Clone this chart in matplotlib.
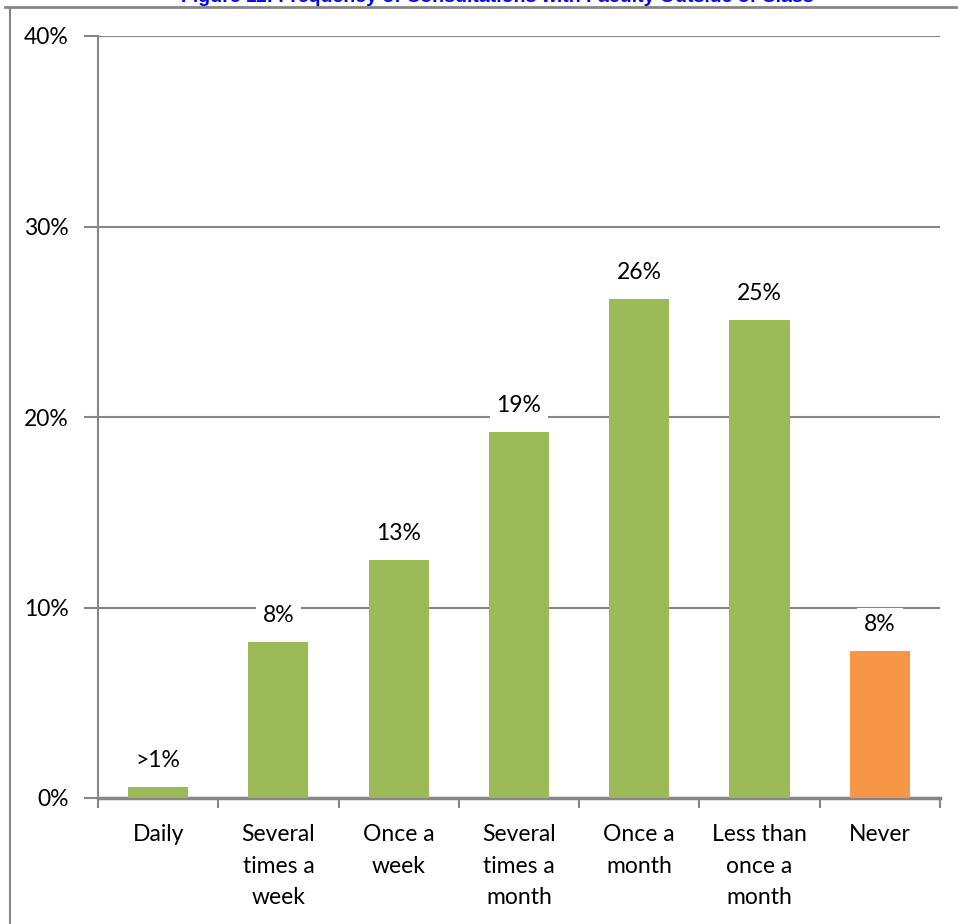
import matplotlib
matplotlib.use("Agg")
import matplotlib.pyplot as plt
from matplotlib.ticker import FixedLocator

categories = ["Daily", "Several\ntimes a\nweek", "Once a\nweek", "Several\ntimes a\nmonth",
              "Once a\nmonth", "Less than\nonce a\nmonth", "Never"]
values = [0.6, 8.2, 12.5, 19.2, 26.2, 25.1, 7.7]
value_labels = [">1%", "8%", "13%", "19%", "26%", "25%", "8%"]
bar_colors = ["#9BBB59"] * 6 + ["#F79646"]
yticks = [0, 10, 20, 30, 40]
ytick_labels = ["0%", "10%", "20%", "30%", "40%"]
title = "Figure 11: Frequency of Consultations with Faculty Outside of Class"

grey = "#868686"
fs = 16.5
plt.rcParams["font.family"] = ["Lato", "DejaVu Sans"]

fig = plt.figure(figsize=(9.58, 9.24), dpi=100)
ax = fig.add_axes([98 / 958, 1 - 798 / 924, 842 / 958, 762 / 924])

x = range(len(categories))
ax.bar(x, values, width=0.5, color=bar_colors, zorder=3)

for xi, v, lab in zip(x, values, value_labels):
    ax.annotate(lab, (xi, v), xytext=(0, 19), textcoords="offset points",
                ha="center", va="center", fontsize=fs, color="black", zorder=4,
                bbox=dict(boxstyle="square,pad=0.3", fc="white", ec="none"))

ax.set_xlim(-0.5, len(categories) - 0.5)
ax.set_ylim(0, 40)
ax.set_yticks(yticks)
ax.set_yticklabels(ytick_labels, fontsize=fs)
ax.set_xticks(list(x))
ax.set_xticklabels(categories, fontsize=fs, linespacing=1.62, va="top")
ax.xaxis.set_minor_locator(FixedLocator([i - 0.5 for i in range(len(categories) + 1)]))
ax.tick_params(axis="x", which="major", length=0, pad=19)
ax.tick_params(axis="x", which="minor", length=7, width=1.5, color=grey)
ax.tick_params(axis="y", length=10, width=1.5, color=grey, pad=11)

ax.grid(axis="y", color=grey, linewidth=1.5, zorder=0)
for side in ["top", "right"]:
    ax.spines[side].set_visible(False)
ax.spines["left"].set_color(grey)
ax.spines["left"].set_linewidth(1.5)
ax.spines["bottom"].set_color(grey)
ax.spines["bottom"].set_linewidth(2.5)

# outer frame of the chart area (only top and left edges visible)
fig.add_artist(plt.Line2D([5 / 958, 1], [1 - 7 / 924] * 2, color=grey, linewidth=2))
fig.add_artist(plt.Line2D([10 / 958] * 2, [0, 1 - 7 / 924], color=grey, linewidth=1.5))

# title mostly cropped off the top of the image
fig.text(497 / 958, 1 - 2 / 924, title, ha="center", va="baseline",
         fontsize=14, fontweight="bold", color="#0000FF", family="Liberation Sans")

fig.savefig("out.png", dpi=100)
